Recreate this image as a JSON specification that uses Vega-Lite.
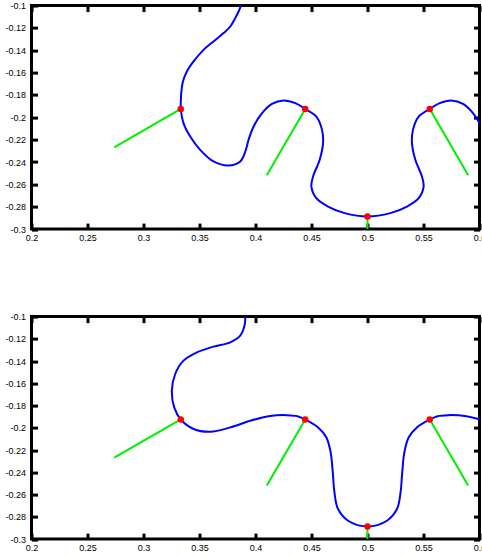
{
  "$schema": "https://vega.github.io/schema/vega-lite/v6.json",
  "background": "white",
  "padding": {"left": 2.5, "top": -0.4, "right": 0, "bottom": 0},
  "spacing": 67,
  "config": {
    "view": {"stroke": "black", "strokeWidth": 3},
    "axis": {
      "grid": false,
      "domain": false,
      "title": null,
      "ticks": true,
      "tickColor": "black",
      "tickWidth": 3,
      "tickSize": -6,
      "labelFont": "Liberation Sans",
      "labelFontSize": 9,
      "labelColor": "black",
      "labelFlush": false,
      "labelOverlap": false,
      "labelExpr": "'' + datum.value"
    }
  },
  "datasets": {
    "curve_top": [
      {"i": 0, "x": 0.3870, "y": -0.1000},
      {"i": 1, "x": 0.3849, "y": -0.1053},
      {"i": 2, "x": 0.3819, "y": -0.1112},
      {"i": 3, "x": 0.3775, "y": -0.1187},
      {"i": 4, "x": 0.3715, "y": -0.1246},
      {"i": 5, "x": 0.3625, "y": -0.1321},
      {"i": 6, "x": 0.3536, "y": -0.1396},
      {"i": 7, "x": 0.3447, "y": -0.1500},
      {"i": 8, "x": 0.3387, "y": -0.1590},
      {"i": 9, "x": 0.3352, "y": -0.1679},
      {"i": 10, "x": 0.3337, "y": -0.1783},
      {"i": 11, "x": 0.3334, "y": -0.1843},
      {"i": 12, "x": 0.3333, "y": -0.1925},
      {"i": 13, "x": 0.3357, "y": -0.2052},
      {"i": 14, "x": 0.3417, "y": -0.2172},
      {"i": 15, "x": 0.3506, "y": -0.2291},
      {"i": 16, "x": 0.3625, "y": -0.2395},
      {"i": 17, "x": 0.3759, "y": -0.2431},
      {"i": 18, "x": 0.3864, "y": -0.2395},
      {"i": 19, "x": 0.3909, "y": -0.2306},
      {"i": 20, "x": 0.3938, "y": -0.2201},
      {"i": 21, "x": 0.3983, "y": -0.2082},
      {"i": 22, "x": 0.4058, "y": -0.1962},
      {"i": 23, "x": 0.4147, "y": -0.1879},
      {"i": 24, "x": 0.4251, "y": -0.1849},
      {"i": 25, "x": 0.4356, "y": -0.1873},
      {"i": 26, "x": 0.4444, "y": -0.1925},
      {"i": 27, "x": 0.4543, "y": -0.1993},
      {"i": 28, "x": 0.4594, "y": -0.2112},
      {"i": 29, "x": 0.4603, "y": -0.2231},
      {"i": 30, "x": 0.4573, "y": -0.2380},
      {"i": 31, "x": 0.4514, "y": -0.2530},
      {"i": 32, "x": 0.4499, "y": -0.2619},
      {"i": 33, "x": 0.4543, "y": -0.2723},
      {"i": 34, "x": 0.4648, "y": -0.2798},
      {"i": 35, "x": 0.4796, "y": -0.2857},
      {"i": 36, "x": 0.5000, "y": -0.2887},
      {"i": 37, "x": 0.5204, "y": -0.2857},
      {"i": 38, "x": 0.5352, "y": -0.2798},
      {"i": 39, "x": 0.5457, "y": -0.2723},
      {"i": 40, "x": 0.5501, "y": -0.2619},
      {"i": 41, "x": 0.5486, "y": -0.2530},
      {"i": 42, "x": 0.5427, "y": -0.2380},
      {"i": 43, "x": 0.5397, "y": -0.2231},
      {"i": 44, "x": 0.5406, "y": -0.2112},
      {"i": 45, "x": 0.5457, "y": -0.1993},
      {"i": 46, "x": 0.5556, "y": -0.1925},
      {"i": 47, "x": 0.5644, "y": -0.1873},
      {"i": 48, "x": 0.5749, "y": -0.1849},
      {"i": 49, "x": 0.5853, "y": -0.1879},
      {"i": 50, "x": 0.5942, "y": -0.1962},
      {"i": 51, "x": 0.6017, "y": -0.2082}
    ],
    "curve_bottom": [
      {"i": 0, "x": 0.3909, "y": -0.1000},
      {"i": 1, "x": 0.3902, "y": -0.1081},
      {"i": 2, "x": 0.3864, "y": -0.1171},
      {"i": 3, "x": 0.3775, "y": -0.1231},
      {"i": 4, "x": 0.3625, "y": -0.1270},
      {"i": 5, "x": 0.3477, "y": -0.1321},
      {"i": 6, "x": 0.3357, "y": -0.1396},
      {"i": 7, "x": 0.3283, "y": -0.1516},
      {"i": 8, "x": 0.3253, "y": -0.1666},
      {"i": 9, "x": 0.3274, "y": -0.1816},
      {"i": 10, "x": 0.3333, "y": -0.1925},
      {"i": 11, "x": 0.3447, "y": -0.2010},
      {"i": 12, "x": 0.3596, "y": -0.2035},
      {"i": 13, "x": 0.3775, "y": -0.1996},
      {"i": 14, "x": 0.3953, "y": -0.1936},
      {"i": 15, "x": 0.4132, "y": -0.1893},
      {"i": 16, "x": 0.4281, "y": -0.1886},
      {"i": 17, "x": 0.4374, "y": -0.1895},
      {"i": 18, "x": 0.4444, "y": -0.1925},
      {"i": 19, "x": 0.4559, "y": -0.1996},
      {"i": 20, "x": 0.4633, "y": -0.2086},
      {"i": 21, "x": 0.4671, "y": -0.2221},
      {"i": 22, "x": 0.4690, "y": -0.2401},
      {"i": 23, "x": 0.4705, "y": -0.2581},
      {"i": 24, "x": 0.4737, "y": -0.2730},
      {"i": 25, "x": 0.4827, "y": -0.2835},
      {"i": 26, "x": 0.5000, "y": -0.2887},
      {"i": 27, "x": 0.5173, "y": -0.2835},
      {"i": 28, "x": 0.5263, "y": -0.2730},
      {"i": 29, "x": 0.5295, "y": -0.2581},
      {"i": 30, "x": 0.5310, "y": -0.2401},
      {"i": 31, "x": 0.5329, "y": -0.2221},
      {"i": 32, "x": 0.5367, "y": -0.2086},
      {"i": 33, "x": 0.5441, "y": -0.1996},
      {"i": 34, "x": 0.5556, "y": -0.1925},
      {"i": 35, "x": 0.5626, "y": -0.1895},
      {"i": 36, "x": 0.5719, "y": -0.1886},
      {"i": 37, "x": 0.5868, "y": -0.1893},
      {"i": 38, "x": 0.6047, "y": -0.1936}
    ],
    "normals": [
      {"seg": 1, "x": 0.3333, "y": -0.19245},
      {"seg": 1, "x": 0.2739, "y": -0.2268},
      {"seg": 2, "x": 0.4444, "y": -0.19245},
      {"seg": 2, "x": 0.4101, "y": -0.2519},
      {"seg": 3, "x": 0.5000, "y": -0.2887},
      {"seg": 3, "x": 0.5000, "y": -0.3573},
      {"seg": 4, "x": 0.5556, "y": -0.19245},
      {"seg": 4, "x": 0.5899, "y": -0.2519}
    ],
    "nodes": [
      {"x": 0.3333, "y": -0.19245},
      {"x": 0.4444, "y": -0.19245},
      {"x": 0.5000, "y": -0.2887},
      {"x": 0.5556, "y": -0.19245}
    ]
  },
  "vconcat": [
    {
      "width": 448,
      "height": 223.5,
      "resolve": {"axis": {"x": "independent", "y": "independent"}},
      "layer": [
        {
          "data": {"name": "curve_top"},
          "mark": {"type": "line", "color": "#0000ff", "strokeWidth": 2, "interpolate": "catmull-rom", "clip": true},
          "encoding": {
            "x": {"field": "x", "type": "quantitative", "scale": {"domain": [0.2, 0.6], "nice": false, "zero": false},
                  "axis": {"orient": "bottom", "values": [0.2, 0.25, 0.3, 0.35, 0.4, 0.45, 0.5, 0.55, 0.6], "labelPadding": 10}},
            "y": {"field": "y", "type": "quantitative", "scale": {"domain": [-0.3, -0.1], "nice": false, "zero": false},
                  "axis": {"orient": "left", "values": [-0.3, -0.28, -0.26, -0.24, -0.22, -0.2, -0.18, -0.16, -0.14, -0.12, -0.1], "labelPadding": 12}},
            "order": {"field": "i", "type": "quantitative"}
          }
        },
        {
          "data": {"name": "normals"},
          "mark": {"type": "line", "color": "#00ee00", "strokeWidth": 2, "clip": true},
          "encoding": {
            "x": {"field": "x", "type": "quantitative", "axis": {"orient": "top", "labels": false, "values": [0.2, 0.25, 0.3, 0.35, 0.4, 0.45, 0.5, 0.55, 0.6]}},
            "y": {"field": "y", "type": "quantitative", "axis": {"orient": "right", "labels": false, "values": [-0.3, -0.28, -0.26, -0.24, -0.22, -0.2, -0.18, -0.16, -0.14, -0.12, -0.1]}},
            "detail": {"field": "seg", "type": "nominal"}
          }
        },
        {
          "data": {"name": "nodes"},
          "mark": {"type": "circle", "color": "#ff0000", "size": 42, "opacity": 1, "clip": true},
          "encoding": {
            "x": {"field": "x", "type": "quantitative", "axis": null},
            "y": {"field": "y", "type": "quantitative", "axis": null}
          }
        }
      ]
    },
    {
      "width": 448,
      "height": 222.5,
      "resolve": {"axis": {"x": "independent", "y": "independent"}},
      "layer": [
        {
          "data": {"name": "curve_bottom"},
          "mark": {"type": "line", "color": "#0000ff", "strokeWidth": 2, "interpolate": "catmull-rom", "clip": true},
          "encoding": {
            "x": {"field": "x", "type": "quantitative", "scale": {"domain": [0.2, 0.6], "nice": false, "zero": false},
                  "axis": {"orient": "bottom", "values": [0.2, 0.25, 0.3, 0.35, 0.4, 0.45, 0.5, 0.55, 0.6], "labelPadding": 10}},
            "y": {"field": "y", "type": "quantitative", "scale": {"domain": [-0.3, -0.1], "nice": false, "zero": false},
                  "axis": {"orient": "left", "values": [-0.3, -0.28, -0.26, -0.24, -0.22, -0.2, -0.18, -0.16, -0.14, -0.12, -0.1], "labelPadding": 12}},
            "order": {"field": "i", "type": "quantitative"}
          }
        },
        {
          "data": {"name": "normals"},
          "mark": {"type": "line", "color": "#00ee00", "strokeWidth": 2, "clip": true},
          "encoding": {
            "x": {"field": "x", "type": "quantitative", "axis": {"orient": "top", "labels": false, "values": [0.2, 0.25, 0.3, 0.35, 0.4, 0.45, 0.5, 0.55, 0.6]}},
            "y": {"field": "y", "type": "quantitative", "axis": {"orient": "right", "labels": false, "values": [-0.3, -0.28, -0.26, -0.24, -0.22, -0.2, -0.18, -0.16, -0.14, -0.12, -0.1]}},
            "detail": {"field": "seg", "type": "nominal"}
          }
        },
        {
          "data": {"name": "nodes"},
          "mark": {"type": "circle", "color": "#ff0000", "size": 42, "opacity": 1, "clip": true},
          "encoding": {
            "x": {"field": "x", "type": "quantitative", "axis": null},
            "y": {"field": "y", "type": "quantitative", "axis": null}
          }
        }
      ]
    }
  ]
}
